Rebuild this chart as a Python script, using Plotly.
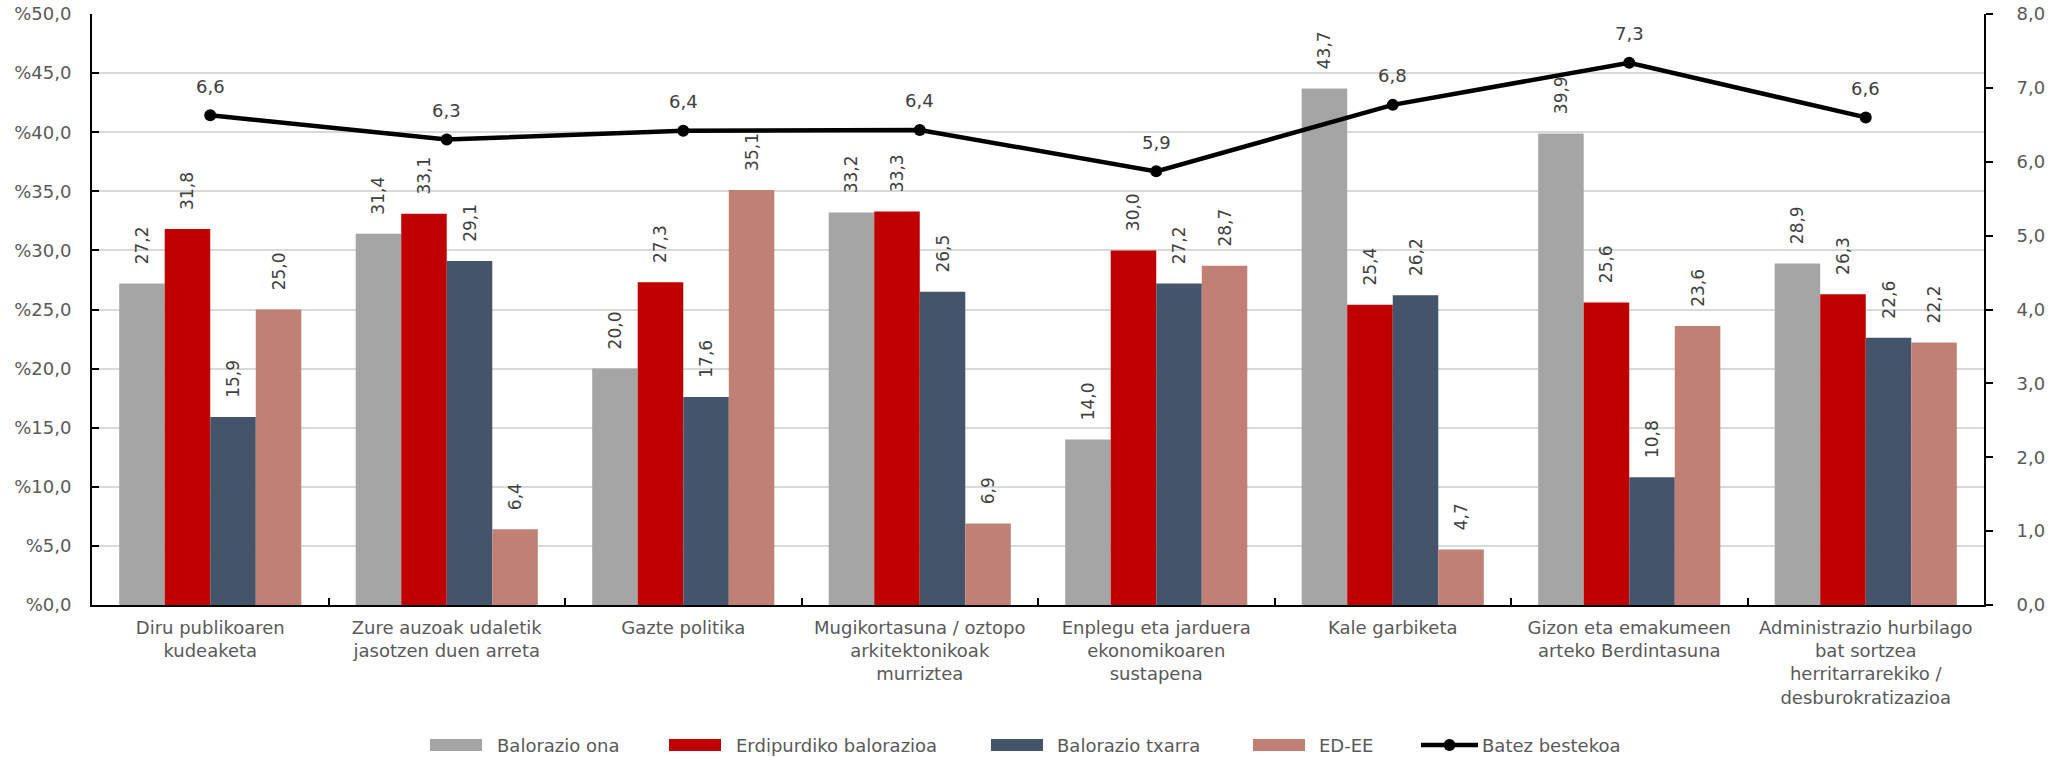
import plotly.graph_objects as go

categories = [
    "Diru publikoaren<br>kudeaketa",
    "Zure auzoak udaletik<br>jasotzen duen arreta",
    "Gazte politika",
    "Mugikortasuna / oztopo<br>arkitektonikoak<br>murriztea",
    "Enplegu eta jarduera<br>ekonomikoaren<br>sustapena",
    "Kale garbiketa",
    "Gizon eta emakumeen<br>arteko Berdintasuna",
    "Administrazio hurbilago<br>bat sortzea<br>herritarrarekiko /<br>desburokratizazioa",
]
balorazio_ona = [27.2, 31.4, 20.0, 33.2, 14.0, 43.7, 39.9, 28.9]
erdipurdiko = [31.8, 33.1, 27.3, 33.3, 30.0, 25.4, 25.6, 26.3]
balorazio_txarra = [15.9, 29.1, 17.6, 26.5, 27.2, 26.2, 10.8, 22.6]
ed_ee = [25.0, 6.4, 35.1, 6.9, 28.7, 4.7, 23.6, 22.2]
batez_bestekoa = [6.63, 6.30, 6.42, 6.43, 5.87, 6.77, 7.34, 6.60]

bar_names = ["Balorazio ona", "Erdipurdiko balorazioa", "Balorazio txarra", "ED-EE"]
bar_values = [balorazio_ona, erdipurdiko, balorazio_txarra, ed_ee]
bar_colors = ["#A5A5A5", "#C00000", "#44546A", "#C08076"]
line_name = "Batez bestekoa"

FONT = "DejaVu Sans, Verdana, sans-serif"
W, H = 2056, 757
L, R, T, B = 92, 72, 14, 152
PW, PH = W - L - R, H - T - B


def fmt(v):
    return f"{v:.1f}".replace(".", ",")


def px(x):
    return (x - L) / PW


def py(y):
    return (H - B - y) / PH


fig = go.Figure()
for name, vals, color in zip(bar_names, bar_values, bar_colors):
    fig.add_trace(go.Bar(
        x=categories, y=vals, name=name, showlegend=False,
        marker=dict(color=color, line=dict(width=0)),
        text=["\u00a0\u00a0\u00a0" + fmt(v) for v in vals],
        textposition="outside", textangle=-90,
        textfont=dict(family=FONT, size=17, color="#404040"),
        cliponaxis=False, constraintext="none",
    ))

fig.add_trace(go.Scatter(
    x=categories, y=batez_bestekoa, name=line_name, yaxis="y2", showlegend=False,
    mode="lines+markers",
    line=dict(color="black", width=4.5),
    marker=dict(size=12, color="black"),
    cliponaxis=False,
))

for c, v in zip(categories, batez_bestekoa):
    fig.add_annotation(x=c, y=v, yref="y2", text=fmt(v), showarrow=False,
                       yshift=29, font=dict(family=FONT, size=18, color="#404040"))

# custom legend (wide Excel-style swatches)
leg_y = 745
sym_x = [430, 669, 991, 1253]
txt_x = [495, 734, 1055, 1317]
for name, color, sx, tx in zip(bar_names, bar_colors, sym_x, txt_x):
    fig.add_shape(type="rect", xref="paper", yref="paper",
                  x0=px(sx), x1=px(sx + 52), y0=py(leg_y + 6), y1=py(leg_y - 6),
                  fillcolor=color, line=dict(width=0))
    fig.add_annotation(xref="paper", yref="paper", x=px(tx), y=py(leg_y), text=name,
                       showarrow=False, xanchor="left", yanchor="middle",
                       font=dict(family=FONT, size=18, color="#595959"))
fig.add_shape(type="line", xref="paper", yref="paper",
              x0=px(1421), x1=px(1478), y0=py(leg_y), y1=py(leg_y),
              line=dict(color="black", width=4.5))
fig.add_shape(type="circle", xref="paper", yref="paper",
              x0=px(1443.5), x1=px(1455.5), y0=py(leg_y + 6), y1=py(leg_y - 6),
              fillcolor="black", line=dict(width=0))
fig.add_annotation(xref="paper", yref="paper", x=px(1480), y=py(leg_y), text=line_name,
                   showarrow=False, xanchor="left", yanchor="middle",
                   font=dict(family=FONT, size=18, color="#595959"))

fig.update_layout(
    width=W, height=H,
    margin=dict(l=L, r=R, t=T, b=B, pad=0, autoexpand=False),
    paper_bgcolor="white", plot_bgcolor="white",
    separators=",.",
    bargap=0.23, bargroupgap=0,
    font=dict(family=FONT, size=18, color="#595959"),
    showlegend=False,
    xaxis=dict(showline=True, linecolor="black", linewidth=2, ticks="inside",
               tickson="boundaries", ticklen=7, tickcolor="black", tickwidth=2,
               ticklabelstandoff=5, automargin=False,
               tickfont=dict(family=FONT, size=18, color="#595959"), showgrid=False),
    yaxis=dict(range=[0, 50], dtick=5, tickformat=".1f", tickprefix="%",
               showgrid=True, gridcolor="#D9D9D9", gridwidth=1.5,
               showline=True, linecolor="black", linewidth=2, ticks="inside",
               ticklen=7, tickcolor="black", tickwidth=2, zeroline=False,
               ticklabelstandoff=15, automargin=False,
               tickfont=dict(family=FONT, size=18, color="#595959")),
    yaxis2=dict(range=[0, 8], dtick=1, tickformat=".1f", overlaying="y", side="right",
                showgrid=False, showline=True, linecolor="black", linewidth=2,
                ticks="outside", ticklen=7, tickcolor="black", tickwidth=2, zeroline=False,
                ticklabelstandoff=20, automargin=False,
                tickfont=dict(family=FONT, size=18, color="#595959")),
)

fig.write_html("out.html", config={"displayModeBar": False})

with open("out.html", encoding="utf-8") as f:
    html = f.read()
html = html.replace("<head>", "<head><style>html,body{margin:0;padding:0;}</style>", 1)
with open("out.html", "w", encoding="utf-8") as f:
    f.write(html)
